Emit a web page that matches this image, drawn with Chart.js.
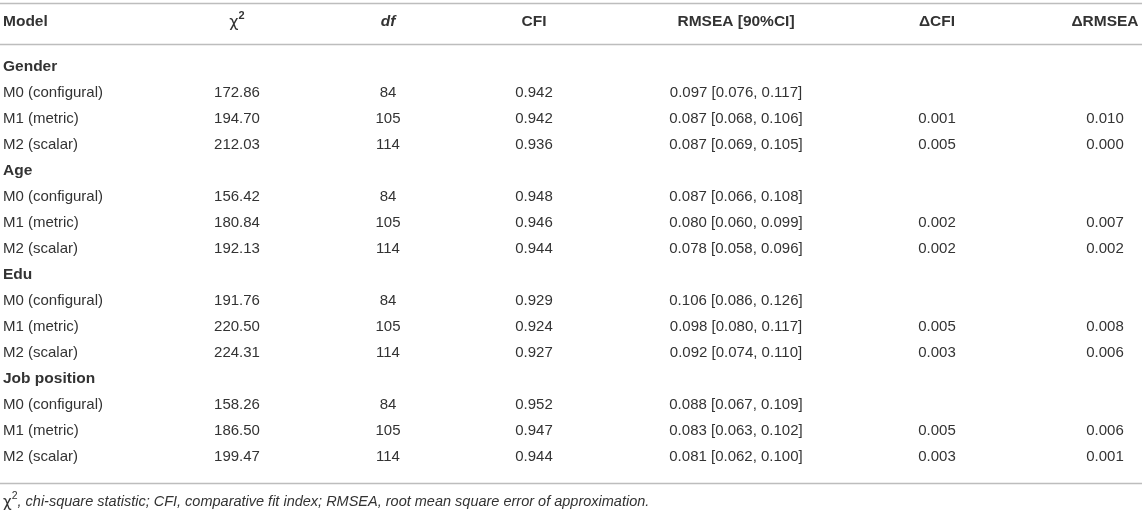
<!DOCTYPE html>
<html>
<head>
<meta charset="utf-8">
<script src="https://cdn.jsdelivr.net/npm/chart.js@4"></script>
<style>
  html, body { margin: 0; padding: 0; background: #fff; }
  #wrap { width: 1142px; height: 513px; }
</style>
</head>
<body>
<div id="wrap"><canvas id="tbl"></canvas></div>
<script>
// --- data ---
const headers = ['Model', 'χ2', 'df', 'CFI', 'RMSEA [90%CI]', 'ΔCFI', 'ΔRMSEA'];
const groups = ['Gender', 'Age', 'Edu', 'Job position'];
const models = ['M0 (configural)', 'M1 (metric)', 'M2 (scalar)'];
const chi2 = [172.86, 194.70, 212.03, 156.42, 180.84, 192.13, 191.76, 220.50, 224.31, 158.26, 186.50, 199.47];
const dfs = [84, 105, 114, 84, 105, 114, 84, 105, 114, 84, 105, 114];
const cfi = [0.942, 0.942, 0.936, 0.948, 0.946, 0.944, 0.929, 0.924, 0.927, 0.952, 0.947, 0.944];
const rmsea = [0.097, 0.087, 0.087, 0.087, 0.080, 0.078, 0.106, 0.098, 0.092, 0.088, 0.083, 0.081];
const ciLow = [0.076, 0.068, 0.069, 0.066, 0.060, 0.058, 0.086, 0.080, 0.074, 0.067, 0.063, 0.062];
const ciHigh = [0.117, 0.106, 0.105, 0.108, 0.099, 0.096, 0.126, 0.117, 0.110, 0.109, 0.102, 0.100];
const dCFI = [null, 0.001, 0.005, null, 0.002, 0.002, null, 0.005, 0.003, null, 0.005, 0.003];
const dRMSEA = [null, 0.010, 0.000, null, 0.007, 0.002, null, 0.008, 0.006, null, 0.006, 0.001];
const footnote = ', chi-square statistic; CFI, comparative fit index; RMSEA, root mean square error of approximation.';

// --- layout (column anchors on x, row units on y) ---
const colX = [3, 237, 388, 534, 736, 937, 1105];
const headerRow = -1.73;
const ruleRows = [-2.46, -0.885, 16.0];
const footRow = 16.73;

const FONT = '"Liberation Sans", Arial, Helvetica, sans-serif';
const GREEK = '"DejaVu Sans", "Noto Sans", sans-serif';
const INK = '#333';

const fmt = (v, d) => (v == null ? '' : v.toFixed(d));

// build table rows from the arrays
const groupPts = [];
const cellPts = headers.map(() => []);
let r = 0;
groups.forEach((g, gi) => {
  groupPts.push({ x: colX[0], y: r, label: g });
  r++;
  models.forEach((m, mi) => {
    const k = gi * 3 + mi;
    const cells = [
      m,
      fmt(chi2[k], 2),
      String(dfs[k]),
      fmt(cfi[k], 3),
      `${fmt(rmsea[k], 3)} [${fmt(ciLow[k], 3)}, ${fmt(ciHigh[k], 3)}]`,
      fmt(dCFI[k], 3),
      fmt(dRMSEA[k], 3)
    ];
    cells.forEach((t, c) => { if (t) cellPts[c].push({ x: colX[c], y: r, label: t }); });
    r++;
  });
});
const headerPts = headers.map((h, c) => ({ x: colX[c], y: headerRow, label: h }));

function headerParts(label) {
  if (label === 'χ2') return [
    { t: 'χ', f: '16px ' + GREEK, dy: 1 },
    { t: '2', f: 'bold 11px ' + FONT, dy: -6 }
  ];
  if (label === 'df') return [{ t: 'df', f: 'italic bold 15.5px ' + FONT, dy: 0 }];
  return [{ t: label, f: 'bold 15.5px ' + FONT, dy: 0 }];
}

function drawParts(ctx, parts, x, y, align) {
  let w = 0;
  parts.forEach(p => { ctx.font = p.f; p.w = ctx.measureText(p.t).width; w += p.w; });
  let cx = align === 'center' ? x - w / 2 : x;
  ctx.textAlign = 'left';
  parts.forEach(p => { ctx.font = p.f; ctx.fillText(p.t, cx, y + p.dy); cx += p.w; });
}

const tablePlugin = {
  id: 'tableText',
  afterDatasetsDraw(chart) {
    const ctx = chart.ctx;
    const { left, right } = chart.chartArea;
    const ys = chart.scales.y;
    ctx.save();

    // horizontal rules
    ctx.strokeStyle = '#bdbdbd';
    ctx.lineWidth = 1.5;
    ruleRows.forEach(v => {
      const py = Math.round(ys.getPixelForValue(v)) + 0.5;
      ctx.beginPath();
      ctx.moveTo(left, py);
      ctx.lineTo(right, py);
      ctx.stroke();
    });

    ctx.fillStyle = INK;
    ctx.textBaseline = 'middle';
    chart.data.datasets.forEach((ds, i) => {
      const meta = chart.getDatasetMeta(i);
      meta.data.forEach((el, j) => {
        const label = ds.data[j].label;
        const align = ds.colIndex === 0 ? 'left' : 'center';
        let parts;
        if (ds.kind === 'header') parts = headerParts(label);
        else if (ds.kind === 'group') parts = [{ t: label, f: 'bold 15.5px ' + FONT, dy: 0 }];
        else parts = [{ t: label, f: '15px ' + FONT, dy: 0 }];
        drawParts(ctx, parts, el.x, el.y, align);
      });
    });

    // footnote
    const fy = ys.getPixelForValue(footRow);
    drawParts(ctx, [
      { t: 'χ', f: '15px ' + GREEK, dy: 1 },
      { t: '2', f: '10.5px ' + FONT, dy: -6 },
      { t: footnote, f: 'italic 14.5px ' + FONT, dy: 0 }
    ], colX[0], fy, 'left');

    ctx.restore();
  }
};

const datasets = [
  { kind: 'header', colIndex: 0, data: headerPts.slice(0, 1) },
  { kind: 'header', colIndex: 1, data: headerPts.slice(1) },
  { kind: 'group', colIndex: 0, data: groupPts }
].concat(cellPts.map((pts, c) => ({ kind: 'cell', colIndex: c, data: pts })));

datasets.forEach(d => { d.pointRadius = 0; d.pointHoverRadius = 0; d.showLine = false; });

new Chart(document.getElementById('tbl'), {
  type: 'scatter',
  data: { datasets },
  options: {
    responsive: true,
    maintainAspectRatio: false,
    animation: false,
    events: [],
    layout: { padding: 0 },
    plugins: { legend: { display: false }, tooltip: { enabled: false } },
    scales: {
      x: { type: 'linear', display: false, min: 0, max: 1142 },
      y: { type: 'linear', display: false, reverse: true, min: -2.577, max: 17.154 }
    }
  },
  plugins: [tablePlugin]
});
</script>
</body>
</html>
